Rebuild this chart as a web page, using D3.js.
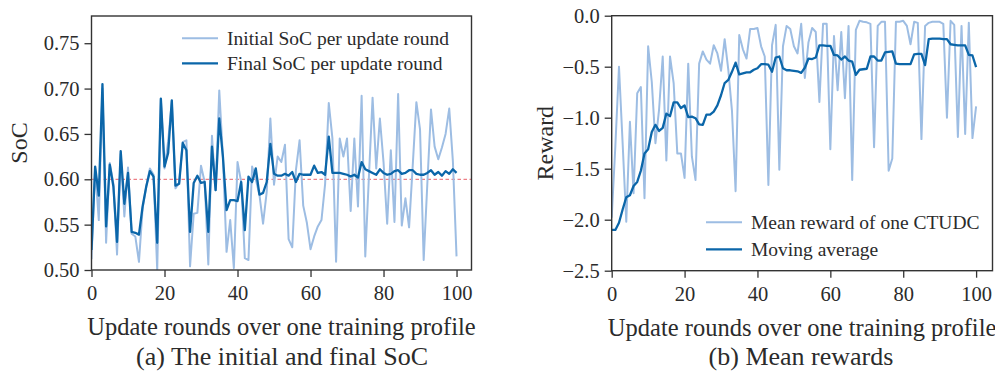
<!DOCTYPE html>
<html>
<head>
<meta charset="utf-8">
<script src="https://cdn.jsdelivr.net/npm/d3@7/dist/d3.min.js"></script>
<style>
  html, body { margin: 0; padding: 0; background: #fff; }
  svg { display: block; }
  text { font-family: "Liberation Serif", "DejaVu Serif", serif; fill: #2b2b2b; }
</style>
</head>
<body>
<svg id="chart" width="995" height="384"></svg>
<script>
// Update rounds 0..100
const rounds = d3.range(0, 101);

// Panel (a): initial and final state of charge per update round
const initialSoC = [
  0.512, 0.612, 0.555, 0.700, 0.530, 0.618, 0.595, 0.517, 0.628, 0.559,
  0.613, 0.540, 0.537, 0.509, 0.568, 0.592, 0.612, 0.605, 0.500, 0.688,
  0.612, 0.642, 0.686, 0.590, 0.596, 0.641, 0.643, 0.504, 0.562, 0.563,
  0.615, 0.597, 0.506, 0.648, 0.588, 0.698, 0.625, 0.520, 0.555, 0.502,
  0.619, 0.597, 0.513, 0.511, 0.614, 0.600, 0.583, 0.551, 0.586, 0.667,
  0.594, 0.625, 0.619, 0.638, 0.534, 0.525, 0.610, 0.643, 0.571, 0.552,
  0.523, 0.537, 0.548, 0.555, 0.595, 0.684, 0.645, 0.509, 0.645, 0.625,
  0.645, 0.565, 0.645, 0.570, 0.692, 0.515, 0.603, 0.690, 0.612, 0.667,
  0.619, 0.551, 0.632, 0.553, 0.694, 0.549, 0.579, 0.547, 0.615, 0.685,
  0.655, 0.511, 0.595, 0.677, 0.636, 0.622, 0.635, 0.650, 0.678, 0.620,
  0.515
];
const finalSoC = [
  0.522, 0.614, 0.582, 0.705, 0.548, 0.616, 0.592, 0.531, 0.631, 0.573,
  0.607, 0.542, 0.541, 0.539, 0.570, 0.592, 0.609, 0.603, 0.530, 0.689,
  0.614, 0.629, 0.687, 0.593, 0.595, 0.640, 0.632, 0.542, 0.596, 0.604,
  0.596, 0.597, 0.542, 0.636, 0.588, 0.667, 0.625, 0.566, 0.577, 0.577,
  0.576, 0.597, 0.544, 0.603, 0.597, 0.612, 0.583, 0.585, 0.597, 0.639,
  0.606, 0.604, 0.604, 0.606, 0.604, 0.608, 0.597, 0.606, 0.605, 0.605,
  0.605, 0.615, 0.607, 0.608, 0.605, 0.647, 0.607, 0.607, 0.607, 0.606,
  0.605, 0.603, 0.605, 0.602, 0.619, 0.611, 0.609, 0.607, 0.605, 0.611,
  0.607, 0.605, 0.606, 0.609, 0.610, 0.606, 0.607, 0.610, 0.610, 0.606,
  0.605, 0.605, 0.607, 0.610, 0.605, 0.608, 0.604, 0.609, 0.606, 0.611,
  0.607
];
const socTarget = 0.60;

// Panel (b): mean reward per round and its moving average
const meanReward = [
  -1.98, -1.28, -0.50, -1.25, -2.02, -1.04, -1.74, -0.76, -0.70, -1.79,
  -0.30, -0.65, -1.25, -0.92, -0.40, -1.42, -0.40, -0.66, -1.35, -1.35,
  -1.59, -0.47, -1.38, -1.61, -0.47, -0.35, -0.43, -0.47, -0.29, -0.37,
  -0.54, -0.23, -0.53, -0.93, -1.72, -0.19, -0.33, -0.42, -0.13, -0.13,
  -0.12, -0.30, -0.40, -1.66, -0.29, -0.09, -1.51, -0.30, -0.10, -0.13,
  -0.30, -0.37, -0.08, -0.61, -0.26, -0.12, -0.16, -0.845, -0.08, -0.08,
  -1.31, -0.20, -0.73, -0.16, -0.81, -0.10, -1.61, -0.14, -0.05, -0.06,
  -0.065, -0.08, -1.29, -0.10, -0.06, -0.06, -1.52, -1.40, -0.06, -0.06,
  -0.05, -0.10, -0.28, -0.06, -0.07, -1.21, -0.10, -0.07, -0.06, -0.06,
  -0.06, -0.08, -1.00, -0.05, -0.09, -1.19, -0.10, -1.16, -0.07, -1.20,
  -0.89
];
const movingAvg = [
  -2.10, -2.10, -2.03, -1.90, -1.78, -1.76, -1.67, -1.63, -1.52, -1.35,
  -1.31, -1.14, -1.07, -1.13, -1.10, -0.96, -0.985, -0.85, -0.85, -0.905,
  -0.88, -0.995, -0.99, -1.005, -1.065, -1.07, -0.97, -0.97, -0.94, -0.88,
  -0.78, -0.66, -0.63, -0.55, -0.46, -0.575, -0.565, -0.555, -0.555, -0.53,
  -0.515, -0.475, -0.475, -0.48, -0.55, -0.41, -0.40, -0.515, -0.535, -0.535,
  -0.54, -0.545, -0.56, -0.51, -0.42, -0.425, -0.41, -0.29, -0.29, -0.295,
  -0.295, -0.385, -0.39, -0.43, -0.40, -0.44, -0.45, -0.58, -0.53, -0.525,
  -0.52, -0.40, -0.40, -0.44, -0.44, -0.36, -0.355, -0.35, -0.47, -0.475,
  -0.475, -0.475, -0.475, -0.38, -0.375, -0.375, -0.485, -0.23, -0.225, -0.225,
  -0.225, -0.23, -0.23, -0.28, -0.285, -0.29, -0.29, -0.29, -0.385, -0.39,
  -0.505
];

// Tick values and labels
const xTicks = [0, 20, 40, 60, 80, 100];
const socTicks = [0.50, 0.55, 0.60, 0.65, 0.70, 0.75];
const rewardTicks = [0.0, -0.5, -1.0, -1.5, -2.0, -2.5];
const xTitle = "Update rounds over one training profile";
const socLegend = ["Initial SoC per update round", "Final SoC per update round"];
const rewardLegend = ["Mean reward of one CTUDC", "Moving average"];
const captions = ["(a) The initial and final SoC", "(b) Mean rewards"];

const light = "#9dbde3";
const dark = "#0b66a9";
const spine = "#333333";

const svg = d3.select("#chart");

function panel(opt) {
  const x = d3.scaleLinear().domain([0, opt.xMax]).range([opt.left, opt.right]);
  const y = d3.scaleLinear().domain(opt.yDomain).range([opt.bottom, opt.top]);
  const g = svg.append("g");
  const clipId = "clip-" + opt.id;
  g.append("clipPath").attr("id", clipId)
    .append("rect")
    .attr("x", opt.left).attr("y", opt.top)
    .attr("width", opt.right - opt.left).attr("height", opt.bottom - opt.top);

  const plot = g.append("g").attr("clip-path", `url(#${clipId})`);

  if (opt.refLine !== undefined) {
    plot.append("line")
      .attr("x1", opt.left).attr("x2", opt.right)
      .attr("y1", y(opt.refLine)).attr("y2", y(opt.refLine))
      .attr("stroke", "#ec7f86").attr("stroke-width", 1.3)
      .attr("stroke-dasharray", "3.5,2.5");
  }

  const line = d3.line().x((d, i) => x(rounds[i])).y(d => y(d));
  plot.append("path").datum(opt.series[0])
    .attr("d", line).attr("fill", "none")
    .attr("stroke", light).attr("stroke-width", 2).attr("stroke-linejoin", "round");
  plot.append("path").datum(opt.series[1])
    .attr("d", line).attr("fill", "none")
    .attr("stroke", dark).attr("stroke-width", 2.3).attr("stroke-linejoin", "round");

  // Axes
  const xAxis = d3.axisBottom(x).tickValues(xTicks).tickFormat(d3.format("d"))
    .tickSizeInner(7).tickSizeOuter(0).tickPadding(5);
  const yAxis = d3.axisLeft(y).tickValues(opt.yTicks).tickFormat(d3.format(opt.yFmt))
    .tickSizeInner(7).tickSizeOuter(0).tickPadding(5);

  const gx = g.append("g").attr("transform", `translate(0,${opt.bottom})`).call(xAxis);
  const gy = g.append("g").attr("transform", `translate(${opt.left},0)`).call(yAxis);
  [gx, gy].forEach(a => {
    a.select(".domain").remove();
    a.selectAll(".tick line").attr("stroke", spine).attr("stroke-width", 1.3);
    a.selectAll(".tick text").attr("fill", "#2b2b2b")
      .style("font-family", '"Liberation Serif", serif').style("font-size", "20.5px");
  });
  gx.selectAll(".tick text").attr("dy", "0.9em");

  // Frame
  g.append("rect")
    .attr("x", opt.left).attr("y", opt.top)
    .attr("width", opt.right - opt.left).attr("height", opt.bottom - opt.top)
    .attr("fill", "none").attr("stroke", spine).attr("stroke-width", 1.4);

  // Axis titles
  g.append("text")
    .attr("x", (opt.left + opt.right) / 2).attr("y", opt.xTitleY)
    .attr("text-anchor", "middle").style("font-size", "24.5px")
    .text(xTitle);
  g.append("text")
    .attr("transform", `translate(${opt.yTitleX},${(opt.top + opt.bottom) / 2}) rotate(-90)`)
    .attr("text-anchor", "middle").attr("dy", "0.35em").style("font-size", "24px")
    .text(opt.yTitle);

  // Legend
  opt.legend.forEach((label, k) => {
    const ly = opt.legendY[k];
    g.append("line")
      .attr("x1", opt.legendX).attr("x2", opt.legendX + 36)
      .attr("y1", ly).attr("y2", ly)
      .attr("stroke", k === 0 ? light : dark).attr("stroke-width", k === 0 ? 2 : 2.3);
    g.append("text")
      .attr("x", opt.legendX + 45).attr("y", ly).attr("dy", "0.33em")
      .style("font-size", "19.5px")
      .text(label);
  });

  // Caption
  g.append("text")
    .attr("x", opt.captionX).attr("y", 365)
    .attr("text-anchor", "middle").style("font-size", "26px")
    .text(opt.caption);
}

panel({
  id: "soc", left: 91.5, right: 471.5, top: 16, bottom: 270, xMax: 104.1,
  yDomain: [0.50, 0.78], yTicks: socTicks, yFmt: ".2f",
  series: [initialSoC, finalSoC], refLine: socTarget,
  yTitle: "SoC", yTitleX: 19, xTitleY: 335,
  legend: socLegend, legendX: 182, legendY: [38.3, 63.3],
  caption: captions[0], captionX: 282
});

panel({
  id: "reward", left: 611.7, right: 992.5, top: 15.7, bottom: 270.7, xMax: 104.5,
  yDomain: [-2.5, 0], yTicks: rewardTicks, yFmt: ".1f",
  series: [meanReward, movingAvg],
  yTitle: "Reward", yTitleX: 545, xTitleY: 336,
  legend: rewardLegend, legendX: 706, legendY: [222.3, 249.3],
  caption: captions[1], captionX: 801
});
</script>
</body>
</html>
